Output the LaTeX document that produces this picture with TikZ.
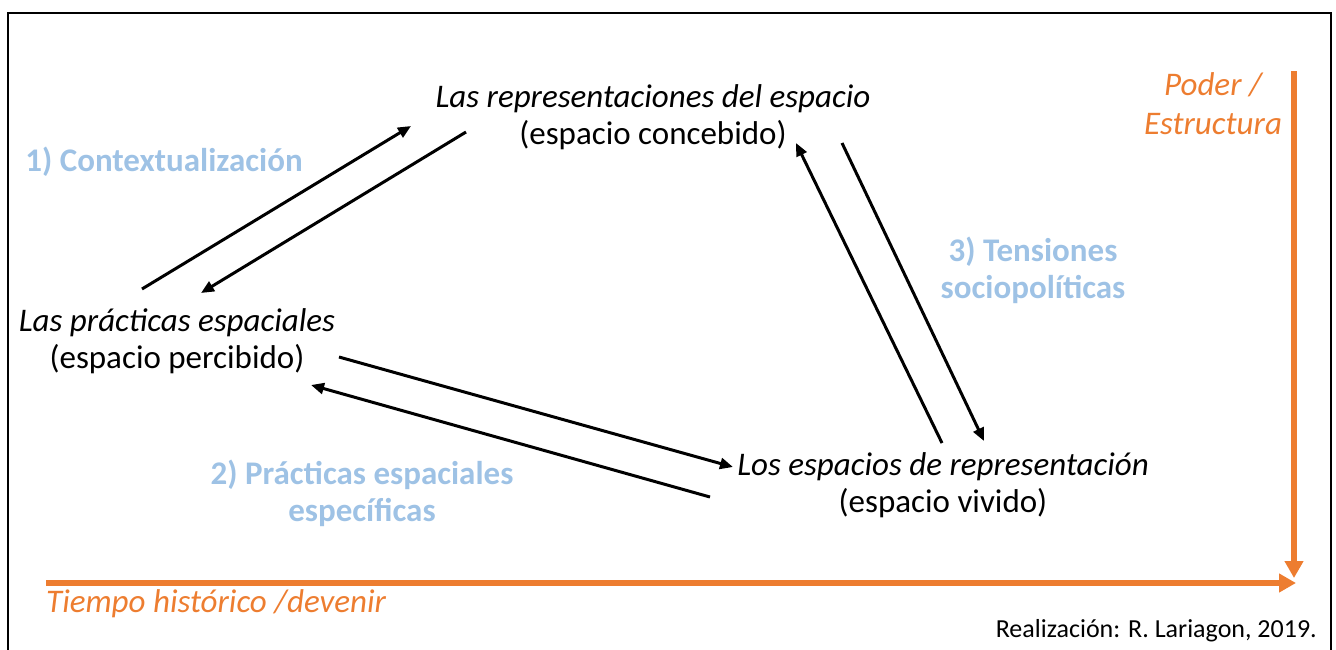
\documentclass[tikz,border=0pt]{standalone}
\usepackage{fontspec}
\setmainfont{Carlito}
\usetikzlibrary{arrows.meta}
\usetikzlibrary{positioning}

\begin{document}
\begin{tikzpicture}[x=1pt,y=-1pt,
    espacio/.style={align=center,inner sep=0pt,font=\fontsize{33}{37}\selectfont},
    relacion/.style={align=center,inner sep=0pt,text=relcolor,font=\fontsize{33}{37}\selectfont\bfseries},
    flujo/.style={-{Triangle[length=13pt,width=11pt]},line width=3pt},
    eje/.style={-{Triangle[length=17pt,width=18pt]},line width=5.5pt,draw=ejecolor}]

		    \definecolor{relcolor}{rgb}{0.62,0.76,0.90}
		    \definecolor{ejecolor}{rgb}{0.93,0.49,0.19}
		    \useasboundingbox (0,0) rectangle (1336,649);
		    \draw[line width=2.5pt] (8,13) rectangle (1331,660);

		    % los tres espacios
		    \node(concebido) [espacio] at (653,117) {\textit{Las representaciones del espacio}\\(espacio concebido)};
		    \node(percibido) [espacio] at (177,341) {\textit{Las prácticas espaciales}\\(espacio percibido)};
		    \node(vivido) [espacio] at (943,485) {\textit{Los espacios de representación}\\(espacio vivido)};

		    % relaciones
		    \node(rel1) [relacion] at (164,162) {1) Contextualización};
		    \node(rel2) [relacion] at (362,493) {2) Prácticas espaciales\\específicas};
		    \node(rel3) [relacion] at (1033,270) {3) Tensiones\\sociopolíticas};

		    % ejes
		    \node(poder) [align=center,inner sep=0pt,text=ejecolor,font=\fontsize{33}{39}\selectfont\itshape] at (1213,104) {Poder /\\Estructura};
		    \node(tiempo) [anchor=base west,inner sep=0pt,text=ejecolor,font=\fontsize{33}{37}\selectfont\itshape] at (46,612) {Tiempo histórico /devenir};
		    \node(credito) [anchor=base east,inner sep=0pt,font=\fontsize{26}{30}\selectfont] at (1317,637) {Realización: R. Lariagon, 2019.};

		    \coordinate (ejetop) at (1294,71);
		    \coordinate (ejecorner) at (1294,578);
		    \coordinate (ejeleft) at (46,583);
		    \coordinate (ejeright) at (1296,583);
		    \draw[eje] (ejetop) -- (ejecorner);
		    \draw[eje] (ejeleft) -- (ejeright);

		    % flechas
		    \coordinate (p1) at (142,289);
		    \coordinate (c1) at (411,126);
		    \coordinate (c2) at (466,132);
		    \coordinate (p2) at (201,293);
		    \coordinate (p3) at (339,357);
		    \coordinate (v3) at (733,467);
		    \coordinate (v4) at (710,497);
		    \coordinate (p4) at (311,385);
		    \coordinate (v5) at (942,443);
		    \coordinate (c5) at (796,143);
		    \coordinate (c6) at (842,143);
		    \coordinate (v6) at (984,441);
		    \draw[flujo] (p1) -- (c1);
		    \draw[flujo] (c2) -- (p2);
		    \draw[flujo] (p3) -- (v3);
		    \draw[flujo] (v4) -- (p4);
		    \draw[flujo] (v5) -- (c5);
		    \draw[flujo] (c6) -- (v6);

\end{tikzpicture}
\end{document}
